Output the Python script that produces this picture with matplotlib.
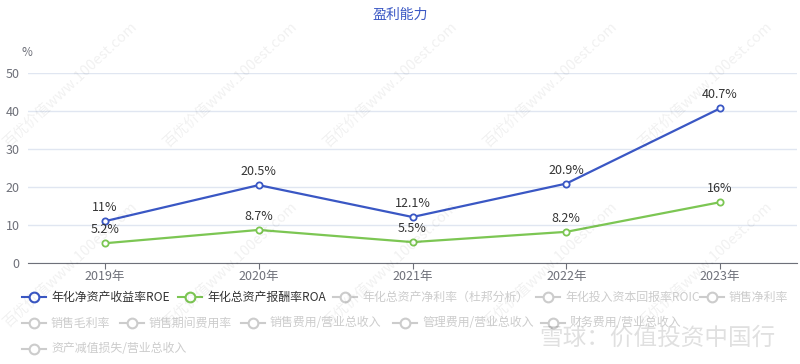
import matplotlib
matplotlib.use('Agg')
import matplotlib.pyplot as plt
from matplotlib.lines import Line2D

plt.rcParams['font.family'] = ['Noto Sans CJK SC', 'DejaVu Sans']

# 数据
years = ['2019年', '2020年', '2021年', '2022年', '2023年']
roe = [11, 20.5, 12.1, 20.9, 40.7]
roa = [5.2, 8.7, 5.5, 8.2, 16]
roe_labels = ['11%', '20.5%', '12.1%', '20.9%', '40.7%']
roa_labels = ['5.2%', '8.7%', '5.5%', '8.2%', '16%']

legend_rows = [
    [('年化净资产收益率ROE', '#3a57c4', '#333333', 22),
     ('年化总资产报酬率ROA', '#7cc653', '#333333', 178),
     ('年化总资产净利率（杜邦分析）', '#cccccc', '#cccccc', 333),
     ('年化投入资本回报率ROIC', '#cccccc', '#cccccc', 536),
     ('销售净利率', '#cccccc', '#cccccc', 700)],
    [('销售毛利率', '#cccccc', '#cccccc', 22),
     ('销售期间费用率', '#cccccc', '#cccccc', 120),
     ('销售费用/营业总收入', '#cccccc', '#cccccc', 241),
     ('管理费用/营业总收入', '#cccccc', '#cccccc', 393),
     ('财务费用/营业总收入', '#cccccc', '#cccccc', 541)],
    [('资产减值损失/营业总收入', '#cccccc', '#cccccc', 22)],
]

W, H = 800, 364
fig = plt.figure(figsize=(8, 3.64), dpi=100)

# 水印
for wx in [10, 170, 330, 490, 645]:
    for wy in [150, 330]:
        fig.text(wx / W, 1 - wy / H, '百优价值www.100est.com', rotation=43, rotation_mode='anchor',
                 fontsize=10.5, color='#000000', alpha=0.06, ha='left', va='bottom')
fig.text(775 / W, 1 - 338 / H, '雪球：价值投资中国行', ha='right', va='center', fontsize=17,
         color='#000000', alpha=0.12)

ax = fig.add_axes([28 / W, 1 - 263 / H, (797 - 28) / W, (263 - 73) / H])
ax.patch.set_alpha(0)

x = list(range(len(years)))
ax.plot(x, roe, color='#3a57c4', lw=1.6, marker='o', ms=4.5, mfc='white', mew=1.3, zorder=3)
ax.plot(x, roa, color='#7cc653', lw=1.6, marker='o', ms=4.5, mfc='white', mew=1.3, zorder=3)

for xi, v, t in zip(x, roe, roe_labels):
    ax.annotate(t, (xi, v), xytext=(0, 5), textcoords='offset points', ha='center', va='bottom',
                fontsize=9, color='#333333')
for xi, v, t in zip(x, roa, roa_labels):
    ax.annotate(t, (xi, v), xytext=(0, 5), textcoords='offset points', ha='center', va='bottom',
                fontsize=9, color='#333333')

ax.set_xlim(-0.5, 4.5)
ax.set_ylim(0, 50)
ax.set_yticks([0, 10, 20, 30, 40, 50])
ax.set_xticks(x)
ax.set_xticklabels(years)
ax.grid(axis='y', color='#e0e6f1', lw=1)
ax.set_axisbelow(True)
for s in ['top', 'right', 'left']:
    ax.spines[s].set_visible(False)
ax.spines['bottom'].set_color('#6e7079')
ax.tick_params(axis='y', length=0, labelsize=9, labelcolor='#6e7079', pad=6)
ax.tick_params(axis='x', length=4, color='#6e7079', labelsize=9, labelcolor='#6e7079', pad=1)

fig.text(400 / W, 1 - 15 / H, '盈利能力', ha='center', va='center', fontsize=10, color='#3a57c4')
fig.text(21 / W, 1 - 52 / H, '%', ha='left', va='center', fontsize=8.5, color='#6e7079')

# 图例
row_y = [297, 323, 349]
for row, yy in zip(legend_rows, row_y):
    for label, lc, tc, x0 in row:
        fy = 1 - yy / H
        fig.add_artist(Line2D([x0 / W, (x0 + 24) / W], [fy, fy], color=lc, lw=1.5,
                              transform=fig.transFigure))
        fig.add_artist(Line2D([(x0 + 12) / W], [fy], color=lc, marker='o', ms=7, mfc='white',
                              mew=1.5, transform=fig.transFigure))
        fig.text((x0 + 29) / W, fy, label, ha='left', va='center', fontsize=8.6, color=tc)

fig.savefig('out.png', dpi=100)
